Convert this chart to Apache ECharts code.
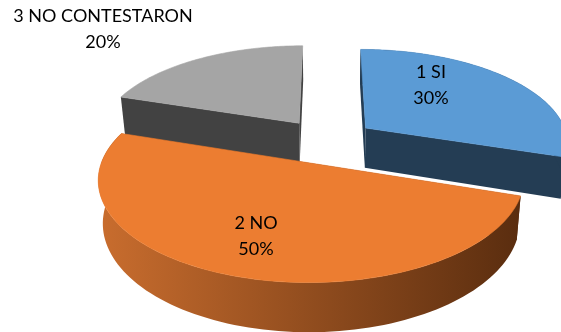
<!DOCTYPE html>
<html>
<head>
<meta charset="utf-8">
<style>html,body{margin:0;padding:0;background:#fff}#chart{width:561px;height:332px}</style>
<script src="https://cdn.jsdelivr.net/npm/echarts@6/dist/echarts.min.js"></script>
</head>
<body>
<div id="chart"></div>
<script>
var categories = ['1 SI', '2 NO', '3 NO CONTESTARON'];
var values = [30, 50, 20];

var topColors = ['#5B9BD5', '#EC7D31', '#A5A5A5'];
var cutWallColors = ['#243D54', '#5E3014', '#424242'];
var rimLeftColors = ['#243D54', '#C96D2E', '#424242'];
var rimRightColors = ['#243D54', '#5A2D0F', '#424242'];
var labelCenters = [[431, 85], [256, 236], [103, 29]];

// Perspective camera for the tilted pie
var CAM = {x0: 327, y0: 141, a: 203, b: 94, k: 0.15, explode: 0.24, depth: 40.5, shrink: 0.98};
var total = values.reduce(function (s, v) { return s + v; }, 0);

function topPoint(theta, r, mid) {
  var X = r * Math.sin(theta) + CAM.explode * Math.sin(mid);
  var V = -r * Math.cos(theta) - CAM.explode * Math.cos(mid);
  var D = 1 - CAM.k * V;
  return [CAM.x0 + CAM.a * X / D, CAM.y0 + CAM.b * V / D, D];
}
function bottomPoint(theta, r, mid) {
  var p = topPoint(theta, r, mid);
  return [CAM.x0 + (p[0] - CAM.x0) * CAM.shrink, p[1] + CAM.depth / p[2]];
}
function arc(fn, a0, a1, mid) {
  var pts = [], n = 90;
  for (var i = 0; i <= n; i++) {
    var t = a0 + (a1 - a0) * i / n;
    var p = fn(t, 1, mid);
    pts.push([p[0], p[1]]);
  }
  return pts;
}
function poly(points, fill, z2, stroke) {
  return {type: 'polygon', shape: {points: points}, style: {fill: fill, stroke: stroke ? fill : null, lineWidth: stroke || 0}, z2: z2};
}

function renderSlice(params, api) {
  var i = params.dataIndex;
  var before = 0;
  for (var j = 0; j < i; j++) before += values[j];
  var value = api.value(0);
  var a0 = before / total * 2 * Math.PI;
  var a1 = (before + value) / total * 2 * Math.PI;
  var mid = (a0 + a1) / 2;
  var base = Math.round(20 - 10 * Math.cos(mid));

  var apexT = topPoint(0, 0, mid), apexB = bottomPoint(0, 0, mid);
  var t = arc(topPoint, a0, a1, mid);
  var b = arc(bottomPoint, a0, a1, mid);
  var last = function (a) { return a[a.length - 1]; };

  var xs = t.map(function (p) { return p[0]; });
  var gradient = new echarts.graphic.LinearGradient(
    Math.min.apply(null, xs), 0, Math.max.apply(null, xs), 0,
    [{offset: 0, color: rimLeftColors[i]}, {offset: 1, color: rimRightColors[i]}], true);

  var pct = Math.round(value / total * 100) + '%';
  var children = [
    poly([[apexT[0], apexT[1]], t[0], b[0], [apexB[0], apexB[1]]], cutWallColors[i], base),
    poly([[apexT[0], apexT[1]], last(t), last(b), [apexB[0], apexB[1]]], cutWallColors[i], base)
  ];
  // only the front-facing part of the rim is ever visible
  var r0 = Math.max(a0, Math.PI / 2), r1 = Math.min(a1, 3 * Math.PI / 2);
  if (r0 < r1) {
    var rt = arc(topPoint, r0, r1, mid), rb = arc(bottomPoint, r0, r1, mid);
    children.push(poly(rt.concat(rb.slice().reverse()), gradient, base + 1));
    // rim from the cut edge to the widest point of the slice
    if (a0 < r0 || a1 > r1) {
      var extra = a1 > r1
        ? [arc(topPoint, r1, a1, mid), arc(bottomPoint, r1, a1, mid)]
        : [arc(topPoint, a0, r0, mid), arc(bottomPoint, a0, r0, mid)];
      children.push(poly(extra[0].concat(extra[1].slice().reverse()), cutWallColors[i], base));
    }
  }
  children.push(poly([[apexT[0], apexT[1]]].concat(t), topColors[i], base + 2, 0.6));
  children.push({
    type: 'text', z2: 100,
    style: {
      text: categories[i] + '\n' + pct,
      x: labelCenters[i][0], y: labelCenters[i][1],
      align: 'center', verticalAlign: 'middle',
      font: '18px Lato', lineHeight: 26, fill: '#000000'
    }
  });
  return {type: 'group', children: children};
}

var chart = echarts.init(document.getElementById('chart'), null, {renderer: 'canvas'});
chart.setOption({
  animation: false,
  backgroundColor: '#ffffff',
  series: [{
    type: 'custom',
    coordinateSystem: 'none',
    silent: true,
    renderItem: renderSlice,
    data: values.map(function (v, i) { return {name: categories[i], value: [v]}; })
  }]
});
</script>
</body>
</html>
